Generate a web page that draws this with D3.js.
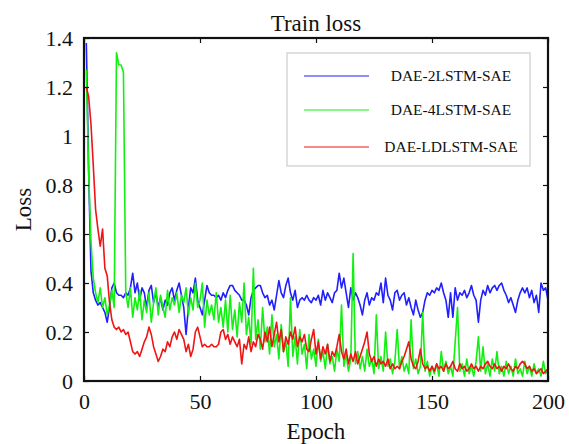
<!DOCTYPE html>
<html>
<head>
<meta charset="utf-8">
<script src="https://cdn.jsdelivr.net/npm/d3@7"></script>
<style>
body { margin: 0; background: #fff; }
text { font-family: "Liberation Serif", "Times New Roman", serif; fill: #111; }
.axis path, .axis line { stroke: #111; }
.series { fill: none; stroke-width: 1.6; stroke-linejoin: round; }
</style>
</head>
<body>
<script>
// chart data, epochs 1..200
var seriesNames = ["DAE-2LSTM-SAE", "DAE-4LSTM-SAE", "DAE-LDLSTM-SAE"]
var seriesColors = ["#1f1fff", "#12f012", "#f01414"]
var xTicks = [0, 50, 100, 150, 200]
var yTicks = [0, 0.2, 0.4, 0.6, 0.8, 1, 1.2, 1.4]
var yTickLabels = ["0", "0.2", "0.4", "0.6", "0.8", "1", "1.2", "1.4"]

var loss2lstm = [1.38,0.86,0.45,0.36,0.33,0.31,0.32,0.30,0.28,0.24,
  0.30,0.38,0.40,0.36,0.35,0.35,0.34,0.36,0.35,0.38,
  0.44,0.36,0.40,0.33,0.38,0.36,0.30,0.37,0.39,0.32,
  0.36,0.30,0.34,0.29,0.33,0.31,0.36,0.38,0.33,0.37,
  0.40,0.35,0.30,0.19,0.30,0.38,0.36,0.42,0.33,0.30,
  0.27,0.33,0.39,0.36,0.35,0.35,0.34,0.35,0.33,0.36,
  0.34,0.37,0.39,0.39,0.37,0.36,0.35,0.33,0.33,0.31,
  0.27,0.34,0.37,0.38,0.39,0.39,0.36,0.34,0.35,0.31,
  0.33,0.29,0.35,0.41,0.36,0.34,0.39,0.42,0.36,0.33,
  0.37,0.30,0.33,0.34,0.33,0.35,0.33,0.32,0.34,0.33,
  0.35,0.31,0.37,0.33,0.36,0.34,0.32,0.36,0.37,0.44,
  0.38,0.42,0.36,0.30,0.38,0.33,0.36,0.34,0.31,0.27,
  0.33,0.36,0.31,0.34,0.33,0.36,0.35,0.40,0.32,0.42,
  0.35,0.33,0.29,0.36,0.37,0.33,0.35,0.36,0.31,0.34,
  0.30,0.27,0.33,0.29,0.26,0.28,0.33,0.36,0.35,0.37,
  0.36,0.38,0.37,0.40,0.36,0.33,0.26,0.36,0.26,0.38,
  0.33,0.36,0.35,0.37,0.34,0.36,0.39,0.35,0.33,0.24,
  0.33,0.37,0.35,0.39,0.36,0.38,0.39,0.37,0.39,0.40,
  0.37,0.35,0.32,0.34,0.31,0.28,0.33,0.36,0.38,0.36,
  0.38,0.34,0.37,0.32,0.35,0.28,0.40,0.37,0.38,0.33]

var loss4lstm = [1.27,0.85,0.57,0.42,0.36,0.32,0.38,0.30,0.34,0.27,
  0.31,0.37,0.30,1.34,1.29,1.29,1.26,0.36,0.30,0.38,
  0.26,0.34,0.29,0.37,0.25,0.33,0.28,0.36,0.24,0.32,
  0.38,0.27,0.35,0.30,0.26,0.37,0.29,0.34,0.31,0.36,
  0.28,0.35,0.32,0.38,0.27,0.34,0.29,0.40,0.30,0.33,
  0.40,0.22,0.33,0.27,0.31,0.25,0.36,0.24,0.30,0.22,
  0.33,0.20,0.35,0.21,0.29,0.18,0.32,0.24,0.40,0.19,
  0.26,0.15,0.46,0.17,0.25,0.13,0.30,0.16,0.22,0.11,
  0.27,0.14,0.19,0.09,0.23,0.12,0.16,0.06,0.34,0.10,
  0.18,0.07,0.21,0.11,0.15,0.05,0.19,0.09,0.13,0.06,
  0.17,0.08,0.12,0.05,0.15,0.07,0.10,0.04,0.13,0.08,
  0.31,0.06,0.11,0.04,0.09,0.52,0.07,0.12,0.05,0.10,
  0.04,0.13,0.06,0.09,0.03,0.27,0.05,0.10,0.04,0.20,
  0.06,0.09,0.03,0.08,0.21,0.05,0.10,0.04,0.07,0.03,
  0.25,0.05,0.09,0.03,0.06,0.28,0.04,0.08,0.02,0.06,
  0.03,0.07,0.02,0.12,0.04,0.08,0.03,0.06,0.02,0.16,
  0.30,0.04,0.07,0.02,0.09,0.03,0.06,0.02,0.08,0.18,
  0.04,0.14,0.03,0.07,0.02,0.09,0.04,0.12,0.03,0.06,
  0.02,0.08,0.03,0.06,0.02,0.09,0.03,0.05,0.02,0.08,
  0.03,0.06,0.02,0.07,0.03,0.05,0.02,0.08,0.03,0.05]

var lossLdlstm = [1.20,1.16,1.05,0.88,0.70,0.62,0.55,0.62,0.46,0.43,
  0.32,0.25,0.22,0.21,0.22,0.20,0.21,0.19,0.20,0.16,
  0.12,0.11,0.12,0.10,0.13,0.16,0.18,0.22,0.19,0.14,
  0.11,0.08,0.10,0.13,0.12,0.16,0.14,0.18,0.20,0.17,
  0.21,0.19,0.17,0.12,0.15,0.10,0.13,0.20,0.22,0.18,
  0.14,0.15,0.14,0.14,0.15,0.14,0.14,0.15,0.20,0.21,
  0.17,0.19,0.15,0.18,0.16,0.14,0.17,0.07,0.15,0.13,
  0.18,0.12,0.16,0.14,0.19,0.17,0.13,0.20,0.16,0.22,
  0.14,0.19,0.24,0.16,0.21,0.12,0.18,0.15,0.20,0.17,
  0.22,0.14,0.18,0.16,0.19,0.13,0.12,0.17,0.21,0.11,
  0.16,0.09,0.14,0.11,0.15,0.08,0.12,0.10,0.14,0.19,
  0.12,0.09,0.13,0.07,0.11,0.08,0.12,0.07,0.10,0.13,
  0.16,0.20,0.11,0.08,0.10,0.06,0.09,0.07,0.08,0.06,
  0.09,0.05,0.07,0.05,0.06,0.05,0.08,0.10,0.13,0.16,
  0.09,0.06,0.05,0.08,0.13,0.07,0.05,0.06,0.04,0.06,
  0.04,0.07,0.05,0.06,0.04,0.07,0.05,0.06,0.08,0.05,
  0.04,0.07,0.05,0.06,0.04,0.05,0.07,0.05,0.06,0.04,
  0.06,0.05,0.07,0.08,0.06,0.05,0.07,0.05,0.06,0.04,
  0.06,0.05,0.07,0.05,0.04,0.06,0.05,0.07,0.08,0.07,
  0.05,0.06,0.04,0.05,0.03,0.04,0.05,0.03,0.04,0.05]

var allSeries = [loss2lstm, loss4lstm, lossLdlstm]

var width = 569
var height = 444
var margin = {left:84, right:21, top:38, bottom:63}
var plotW = width - margin.left - margin.right
var plotH = height - margin.top - margin.bottom

var x = d3.scaleLinear().domain([0,200]).range([0, plotW])
var y = d3.scaleLinear().domain([0,1.4]).range([plotH, 0])

var svg = d3.select("body").append("svg")
    .attr("width", width)
    .attr("height", height)

var chartGroup = svg.append("g")
    .attr("transform","translate("+margin.left+","+margin.top+")")

//LINES
var line = d3.line()
    .x(function(d,i){ return x(i+1) })
    .y(function(d){ return y(d) })

chartGroup.selectAll("path.series")
    .data(allSeries)
    .enter().append("path")
    .attr("class","series")
    .attr("stroke", function(d,i){ return seriesColors[i] })
    .attr("d", line)

//AXES (ticks pointing inward, mirrored on top and right)
var fmtY = function(d){ return yTickLabels[yTicks.indexOf(d)] }
var xAxis = d3.axisBottom(x).tickValues(xTicks).tickSizeInner(-5).tickSizeOuter(0).tickPadding(12)
var xTop = d3.axisTop(x).tickValues(xTicks).tickSizeInner(-5).tickSizeOuter(0).tickFormat("")
var yAxis = d3.axisLeft(y).tickValues(yTicks).tickFormat(fmtY).tickSizeInner(-5).tickSizeOuter(0).tickPadding(11)
var yRight = d3.axisRight(y).tickValues(yTicks).tickSizeInner(-5).tickSizeOuter(0).tickFormat("")

chartGroup.append("g").attr("class","x axis").attr("transform","translate(0,"+plotH+")").call(xAxis)
chartGroup.append("g").attr("class","x axis").call(xTop)
chartGroup.append("g").attr("class","y axis").call(yAxis)
chartGroup.append("g").attr("class","y axis").attr("transform","translate("+plotW+",0)").call(yRight)

chartGroup.selectAll(".axis text")
    .style("font-family", '"Liberation Serif", serif')
    .style("font-size", "22px")
    .attr("fill", "#111")
chartGroup.selectAll(".axis .tick line").attr("stroke-width", 1.2)

//FRAME
chartGroup.append("rect")
    .attr("width", plotW)
    .attr("height", plotH)
    .attr("fill", "none")
    .attr("stroke", "#111")
    .attr("stroke-width", 2.2)

//TITLE + AXIS LABELS
svg.append("text")
    .attr("x", margin.left + plotW/2)
    .attr("y", 31)
    .attr("text-anchor","middle")
    .style("font-size","23px")
    .text("Train loss")

svg.append("text")
    .attr("x", margin.left + plotW/2)
    .attr("y", 439)
    .attr("text-anchor","middle")
    .style("font-size","23px")
    .text("Epoch")

svg.append("text")
    .attr("transform","translate(31,"+(margin.top + plotH/2)+") rotate(-90)")
    .attr("text-anchor","middle")
    .style("font-size","23px")
    .text("Loss")

//LEGEND
var legend = svg.append("g").attr("transform","translate(287,53)")
legend.append("rect")
    .attr("width", 243)
    .attr("height", 113)
    .attr("fill", "#fff")
    .attr("stroke", "#d4d6da")
    .attr("stroke-width", 1.5)

var rowY = [23, 57, 94]
var rows = legend.selectAll("g.row")
    .data(seriesNames)
    .enter().append("g")
    .attr("class","row")
    .attr("transform", function(d,i){ return "translate(0,"+rowY[i]+")" })
rows.append("line")
    .attr("x1", 17).attr("x2", 82)
    .attr("stroke", function(d,i){ return seriesColors[i] })
    .attr("stroke-width", 1.2)
rows.append("text")
    .attr("x", 164)
    .attr("y", 5)
    .attr("text-anchor","middle")
    .style("font-size","15.5px")
    .text(function(d){ return d })
</script>
</body>
</html>
